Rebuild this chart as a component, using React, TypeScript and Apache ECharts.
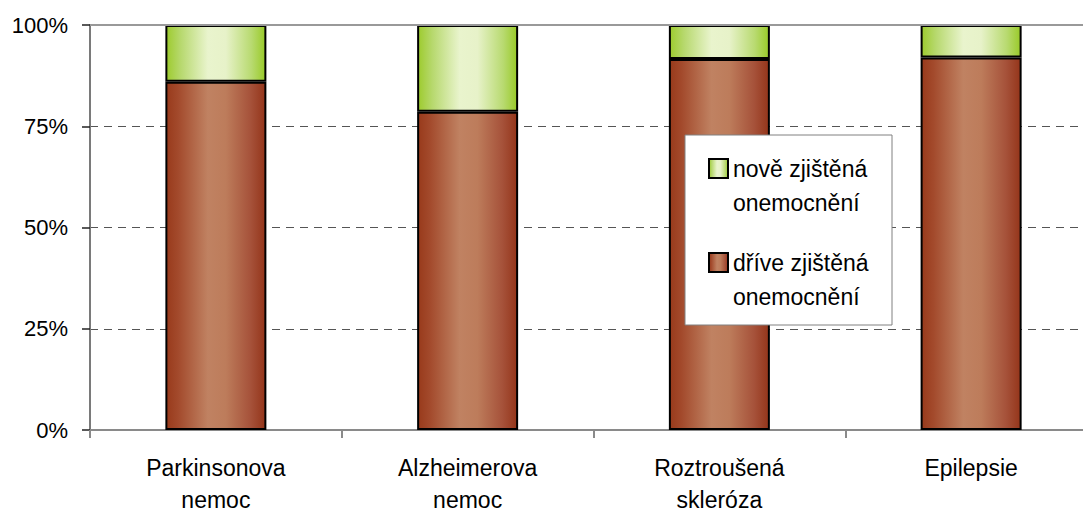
import React, { useEffect, useRef } from "react";
import * as echarts from "echarts";

const categories = ["Parkinsonova\nnemoc", "Alzheimerova\nnemoc", "Roztroušená\nskleróza", "Epilepsie"];
const earlierName = "dříve zjištěná\nonemocnění";
const newName = "nově zjištěná\nonemocnění";
const earlierValues = [86.0, 78.6, 91.6, 92.0];
const newValues = [14.0, 21.4, 8.4, 8.0];
const yTicks = [0, 25, 50, 75, 100];

const FONT = "'Liberation Sans', Arial, sans-serif";

const brownGrad = new echarts.graphic.LinearGradient(0, 0, 1, 0, [
  { offset: 0, color: "#983a1b" },
  { offset: 0.12, color: "#a34a2c" },
  { offset: 0.42, color: "#c08262" },
  { offset: 0.6, color: "#bd7c5b" },
  { offset: 0.85, color: "#a6523a" },
  { offset: 1, color: "#94351a" },
]);
const greenGrad = new echarts.graphic.LinearGradient(0, 0, 1, 0, [
  { offset: 0, color: "#9dcb2e" },
  { offset: 0.14, color: "#b6d86c" },
  { offset: 0.42, color: "#e9f4cd" },
  { offset: 0.6, color: "#e7f2c9" },
  { offset: 0.86, color: "#b8da70" },
  { offset: 1, color: "#99ca28" },
]);

export default function App() {
  const ref = useRef<HTMLDivElement>(null);
  useEffect(() => {
    if (!ref.current) return;
    const chart = echarts.init(ref.current, null, { renderer: "svg" });
    chart.setOption({
      animation: false,
      textStyle: { fontFamily: FONT },
      grid: { left: 90, right: -14, top: 25, bottom: 87, containLabel: false, outerBoundsMode: "none" },
      xAxis: {
        type: "category",
        data: categories,
        axisLine: { lineStyle: { color: "#8a8a8a", width: 2 } },
        axisTick: { show: true, length: 8, lineStyle: { color: "#8a8a8a", width: 2 } },
        axisLabel: { fontSize: 23, lineHeight: 32, color: "#000", margin: 22, fontFamily: FONT, interval: 0 },
      },
      yAxis: {
        type: "value",
        min: yTicks[0],
        max: yTicks[yTicks.length - 1],
        interval: 25,
        axisLine: { show: true, lineStyle: { color: "#7a7a7a", width: 2 } },
        axisTick: { show: true, length: 8, lineStyle: { color: "#222", width: 1.5 } },
        axisLabel: { formatter: "{value}%", fontSize: 22, color: "#000", margin: 22, fontFamily: FONT },
        splitLine: { show: true, lineStyle: { color: "#555", width: 1, type: [8, 6] } },
      },
      legend: {
        orient: "vertical",
        left: 708,
        top: 117.5,
        padding: 0,
        itemGap: -8,
        itemWidth: 19,
        itemHeight: 19,
        icon: "rect",
        data: [newName, earlierName],
        formatter: (name: string) => "\n" + name,
        textStyle: { fontSize: 23, lineHeight: 34, color: "#000", fontFamily: FONT },
        selectedMode: false,
        z: 5,
      },
      graphic: [
        {
          type: "rect",
          z: 4,
          shape: { x: 685, y: 135, width: 207, height: 190 },
          style: { fill: "#fff", stroke: "#808080", lineWidth: 1 },
        },
      ],
      series: [
        {
          name: earlierName,
          type: "bar",
          stack: "total",
          barWidth: 101,
          data: earlierValues,
          itemStyle: { color: brownGrad, borderColor: "#000", borderWidth: 2 },
          markLine: {
            silent: true,
            symbol: "none",
            label: { show: false },
            lineStyle: { color: "#999", width: 2, type: "solid" },
            data: [{ yAxis: yTicks[yTicks.length - 1] }],
          },
        },
        {
          name: newName,
          type: "bar",
          stack: "total",
          barWidth: 101,
          data: newValues,
          itemStyle: { color: greenGrad, borderColor: "#000", borderWidth: 2 },
        },
      ],
    });
    return () => chart.dispose();
  }, []);
  return <div ref={ref} style={{ position: "absolute", left: 0, top: 0, width: 1083, height: 517 }} />;
}
